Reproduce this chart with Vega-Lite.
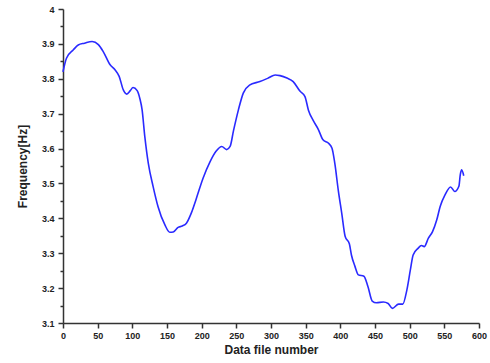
{
  "$schema": "https://vega.github.io/schema/vega-lite/v6.json",
  "autosize": "none",
  "width": 416,
  "height": 314,
  "padding": {"left": 63, "top": 9, "right": 11, "bottom": 40},
  "background": "white",
  "config": {
    "view": {"stroke": null},
    "axis": {
      "labelFont": "Liberation Sans",
      "labelFontWeight": "bold",
      "labelFontSize": 9,
      "labelColor": "#222",
      "titleFont": "Liberation Sans",
      "titleFontWeight": "bold",
      "titleFontSize": 12,
      "titleColor": "#222",
      "domainColor": "#333",
      "domainWidth": 1.5,
      "tickColor": "#333",
      "tickWidth": 1.5,
      "grid": false
    }
  },
  "data": {
    "values": [
      {"n": 0, "f": 3.820}, {"n": 5, "f": 3.859}, {"n": 15, "f": 3.883}, {"n": 22, "f": 3.897},
      {"n": 31, "f": 3.902}, {"n": 42, "f": 3.907}, {"n": 51, "f": 3.898}, {"n": 58, "f": 3.878},
      {"n": 68, "f": 3.840}, {"n": 75, "f": 3.826}, {"n": 81, "f": 3.807}, {"n": 87, "f": 3.768},
      {"n": 92, "f": 3.756}, {"n": 97, "f": 3.766}, {"n": 101, "f": 3.775}, {"n": 107, "f": 3.766},
      {"n": 111, "f": 3.742}, {"n": 114, "f": 3.712}, {"n": 118, "f": 3.634}, {"n": 123, "f": 3.558},
      {"n": 130, "f": 3.491}, {"n": 137, "f": 3.434}, {"n": 147, "f": 3.381}, {"n": 154, "f": 3.360},
      {"n": 159, "f": 3.361}, {"n": 166, "f": 3.374}, {"n": 172, "f": 3.378}, {"n": 178, "f": 3.386},
      {"n": 185, "f": 3.415}, {"n": 192, "f": 3.455}, {"n": 202, "f": 3.515}, {"n": 212, "f": 3.562},
      {"n": 221, "f": 3.593}, {"n": 229, "f": 3.606}, {"n": 236, "f": 3.597}, {"n": 241, "f": 3.606},
      {"n": 246, "f": 3.652}, {"n": 253, "f": 3.711}, {"n": 260, "f": 3.759}, {"n": 269, "f": 3.782},
      {"n": 284, "f": 3.792}, {"n": 296, "f": 3.802}, {"n": 306, "f": 3.811}, {"n": 313, "f": 3.809},
      {"n": 323, "f": 3.802}, {"n": 332, "f": 3.792}, {"n": 342, "f": 3.764}, {"n": 349, "f": 3.749},
      {"n": 354, "f": 3.710}, {"n": 361, "f": 3.680}, {"n": 368, "f": 3.656}, {"n": 375, "f": 3.625},
      {"n": 383, "f": 3.615}, {"n": 388, "f": 3.601}, {"n": 392, "f": 3.558}, {"n": 397, "f": 3.481},
      {"n": 402, "f": 3.415}, {"n": 407, "f": 3.348}, {"n": 413, "f": 3.327}, {"n": 416, "f": 3.295},
      {"n": 421, "f": 3.263}, {"n": 426, "f": 3.238}, {"n": 434, "f": 3.234}, {"n": 440, "f": 3.203},
      {"n": 446, "f": 3.163}, {"n": 452, "f": 3.158}, {"n": 462, "f": 3.160}, {"n": 469, "f": 3.156},
      {"n": 475, "f": 3.142}, {"n": 484, "f": 3.154}, {"n": 490, "f": 3.154}, {"n": 496, "f": 3.195},
      {"n": 501, "f": 3.252}, {"n": 505, "f": 3.295}, {"n": 512, "f": 3.314}, {"n": 517, "f": 3.322},
      {"n": 521, "f": 3.319}, {"n": 527, "f": 3.343}, {"n": 533, "f": 3.362}, {"n": 539, "f": 3.395},
      {"n": 544, "f": 3.434}, {"n": 551, "f": 3.467}, {"n": 559, "f": 3.490}, {"n": 565, "f": 3.477},
      {"n": 571, "f": 3.492}, {"n": 573, "f": 3.525}, {"n": 575, "f": 3.539}, {"n": 578, "f": 3.522}
    ]
  },
  "layer": [
    {
      "mark": {"type": "line", "color": "#2a2aff", "strokeWidth": 1.6, "interpolate": "monotone"},
      "encoding": {
        "x": {
          "field": "n", "type": "quantitative",
          "scale": {"domain": [0, 600], "nice": false, "zero": false},
          "axis": {
            "title": "Data file number",
            "values": [0, 50, 100, 150, 200, 250, 300, 350, 400, 450, 500, 550, 600],
            "tickSize": 5, "labelPadding": 3, "titlePadding": 4,
            "labelFlush": false, "labelOverlap": false
          }
        },
        "y": {
          "field": "f", "type": "quantitative",
          "scale": {"domain": [3.1, 4.0], "nice": false, "zero": false},
          "axis": {
            "title": "Frequency[Hz]",
            "values": [3.1, 3.2, 3.3, 3.4, 3.5, 3.6, 3.7, 3.8, 3.9, 4.0],
            "labelExpr": "datum.value >= 3.999 ? '4' : format(datum.value, '.1f')",
            "tickSize": 5, "labelPadding": 4, "titlePadding": 12,
            "labelFlush": false, "labelOverlap": false
          }
        }
      }
    },
    {
      "mark": {"type": "line", "opacity": 0},
      "encoding": {
        "x": {"field": "n", "type": "quantitative", "axis": null},
        "y": {
          "field": "f", "type": "quantitative",
          "axis": {
            "orient": "left",
            "title": null,
            "labels": false,
            "domain": false,
            "tickSize": 3,
            "values": [3.15, 3.25, 3.35, 3.45, 3.55, 3.65, 3.75, 3.85, 3.95]
          }
        }
      }
    }
  ],
  "resolve": {"axis": {"x": "independent", "y": "independent"}}
}
